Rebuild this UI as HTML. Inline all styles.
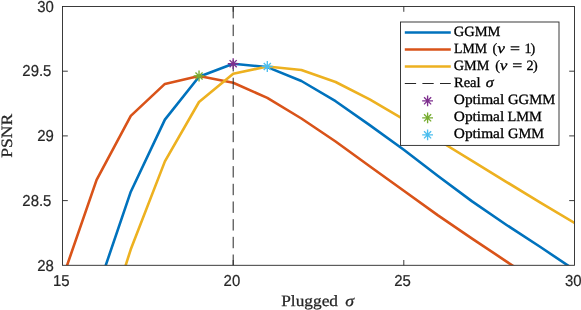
<!DOCTYPE html>
<html><head><meta charset="utf-8"><title>PSNR vs plugged sigma</title>
<style>html,body{margin:0;padding:0;background:#fff}svg{display:block}text{text-rendering:geometricPrecision}</style></head>
<body><svg width="581" height="310" viewBox="0 0 581 310">
<rect x="0" y="0" width="581" height="310" fill="#fff"/>
<defs><clipPath id="c"><rect x="62.5" y="6.5" width="512.0" height="258.8"/></clipPath></defs>
<g clip-path="url(#c)" fill="none" stroke-linejoin="round">
<polyline points="96.6,292.2 130.8,191.7 164.9,119.6 199.0,76.8 233.2,63.7 267.3,67.1 301.4,81.0 335.6,101.2 369.7,125.1 403.8,149.8 438.0,176.0 472.1,201.4 506.2,224.7 540.4,247.0 574.5,269.9" stroke="#0072BD" stroke-width="2.6"/>
<polyline points="62.5,278.6 96.6,179.9 130.8,115.9 164.9,83.9 199.0,76.0 233.2,82.7 267.3,97.9 301.4,118.5 335.6,141.5 369.7,166.2 403.8,190.8 438.0,215.4 472.1,238.6 506.2,261.3 540.4,284.3" stroke="#D95319" stroke-width="2.6"/>
<polyline points="96.6,356.0 130.8,249.3 164.9,161.4 199.0,102.0 233.2,73.8 267.3,66.5 301.4,70.0 335.6,82.0 369.7,99.4 403.8,119.3 438.0,140.0 472.1,160.9 506.2,181.8 540.4,202.6 574.5,222.9" stroke="#EDB120" stroke-width="2.6"/>
<line x1="233.2" y1="7" x2="233.2" y2="265.3" stroke="#262626" stroke-width="1" stroke-dasharray="11.4 6.28"/>
</g>
<path d="M227.77 63.70H238.57M233.17 58.30V69.10M229.60 60.14L236.73 67.26M229.60 67.26L236.73 60.14" stroke="#7E2F8E" stroke-width="1.35" fill="none"/>
<path d="M193.63 76.00H204.43M199.03 70.60V81.40M195.47 72.44L202.60 79.56M195.47 79.56L202.60 72.44" stroke="#77AC30" stroke-width="1.35" fill="none"/>
<path d="M261.90 66.50H272.70M267.30 61.10V71.90M263.74 62.94L270.86 70.06M263.74 70.06L270.86 62.94" stroke="#4DBEEE" stroke-width="1.35" fill="none"/>
<rect x="62.5" y="6.5" width="512.0" height="258.8" fill="none" stroke="#262626" stroke-width="0.9"/>
<path d="M233.2 265.3v-5.3M233.2 6.5v5.3M403.8 265.3v-5.3M403.8 6.5v5.3M62.5 200.6h5.3M574.5 200.6h-5.3M62.5 135.9h5.3M574.5 135.9h-5.3M62.5 71.2h5.3M574.5 71.2h-5.3" stroke="#262626" stroke-width="0.9" fill="none"/>
<g font-family="'Liberation Sans', sans-serif" font-size="15.8px" fill="#262626" stroke="#262626" stroke-width="0.2">
<text transform="translate(61.2 286.3) scale(0.945 1)" text-anchor="middle">15</text>
<text transform="translate(231.9 286.3) scale(0.945 1)" text-anchor="middle">20</text>
<text transform="translate(402.5 286.3) scale(0.945 1)" text-anchor="middle">25</text>
<text transform="translate(573.2 286.3) scale(0.945 1)" text-anchor="middle">30</text>
<text transform="translate(53.8 270.5) scale(0.945 1)" text-anchor="end">28</text>
<text transform="translate(51.4 205.8) scale(0.945 1)" text-anchor="end">28.5</text>
<text transform="translate(53.8 141.1) scale(0.945 1)" text-anchor="end">29</text>
<text transform="translate(51.4 76.4) scale(0.945 1)" text-anchor="end">29.5</text>
<text transform="translate(53.8 11.7) scale(0.945 1)" text-anchor="end">30</text>
</g>
<g font-family="'Liberation Serif', serif" font-size="15.8px" fill="#262626" stroke="#262626" stroke-width="0.25">
<text x="281.2" y="305.7" textLength="56.8" lengthAdjust="spacingAndGlyphs">Plugged</text>
<text x="345.3" y="305.6" font-style="italic" textLength="8.8" lengthAdjust="spacingAndGlyphs">σ</text>
<text transform="translate(11.5 157.8) rotate(-90)" textLength="44.0" lengthAdjust="spacingAndGlyphs">PSNR</text>
</g>
<rect x="400.5" y="22.0" width="158.5" height="123.4" fill="#fff" stroke="#262626" stroke-width="0.9"/>
<g fill="none" stroke-width="2.6">
<line x1="404.8" x2="450.8" y1="32.5" y2="32.5" stroke="#0072BD"/>
<line x1="404.8" x2="450.8" y1="49.5" y2="49.5" stroke="#D95319"/>
<line x1="404.8" x2="450.8" y1="66.5" y2="66.5" stroke="#EDB120"/>
</g>
<line x1="404.8" x2="450.8" y1="83.5" y2="83.5" stroke="#262626" stroke-width="1" stroke-dasharray="11.3 6.3"/>
<path d="M422.20 100.80H433.00M427.60 95.40V106.20M424.04 97.24L431.16 104.36M424.04 104.36L431.16 97.24" stroke="#7E2F8E" stroke-width="1.35" fill="none"/>
<path d="M422.20 117.80H433.00M427.60 112.40V123.20M424.04 114.24L431.16 121.36M424.04 121.36L431.16 114.24" stroke="#77AC30" stroke-width="1.35" fill="none"/>
<path d="M422.20 134.80H433.00M427.60 129.40V140.20M424.04 131.24L431.16 138.36M424.04 138.36L431.16 131.24" stroke="#4DBEEE" stroke-width="1.35" fill="none"/>
<g font-family="'Liberation Serif', serif" font-size="14.2px" fill="#000" stroke="#000" stroke-width="0.3">
<text x="453.8" y="36.2" textLength="46.7" lengthAdjust="spacingAndGlyphs">GGMM</text>
<text x="454.0" y="53.2" textLength="33.0" lengthAdjust="spacingAndGlyphs">LMM</text>
<text x="492.5" y="53.2">(</text>
<text x="497.4" y="53.2" textLength="7.4" lengthAdjust="spacingAndGlyphs" font-style="italic">ν</text>
<text x="509.9" y="53.2" textLength="10.0" lengthAdjust="spacingAndGlyphs">=</text>
<text x="524.4" y="53.2">1</text>
<text x="530.6" y="53.2">)</text>
<text x="453.8" y="70.2" textLength="35.6" lengthAdjust="spacingAndGlyphs">GMM</text>
<text x="495.2" y="70.2">(</text>
<text x="499.9" y="70.2" textLength="7.3" lengthAdjust="spacingAndGlyphs" font-style="italic">ν</text>
<text x="512.2" y="70.2" textLength="10.0" lengthAdjust="spacingAndGlyphs">=</text>
<text x="526.4" y="70.2">2</text>
<text x="533.0" y="70.2">)</text>
<text x="454.0" y="87.2" textLength="26.6" lengthAdjust="spacingAndGlyphs">Real</text>
<text x="485.8" y="87.2" textLength="7.9" lengthAdjust="spacingAndGlyphs" font-style="italic">σ</text>
<text x="453.8" y="104.2" textLength="50.4" lengthAdjust="spacingAndGlyphs">Optimal</text>
<text x="508.0" y="104.2" textLength="47.2" lengthAdjust="spacingAndGlyphs">GGMM</text>
<text x="453.8" y="121.2" textLength="50.4" lengthAdjust="spacingAndGlyphs">Optimal</text>
<text x="507.4" y="121.2" textLength="34.4" lengthAdjust="spacingAndGlyphs">LMM</text>
<text x="453.8" y="138.2" textLength="50.4" lengthAdjust="spacingAndGlyphs">Optimal</text>
<text x="508.0" y="138.2" textLength="36.0" lengthAdjust="spacingAndGlyphs">GMM</text>
</g>
</svg></body></html>
